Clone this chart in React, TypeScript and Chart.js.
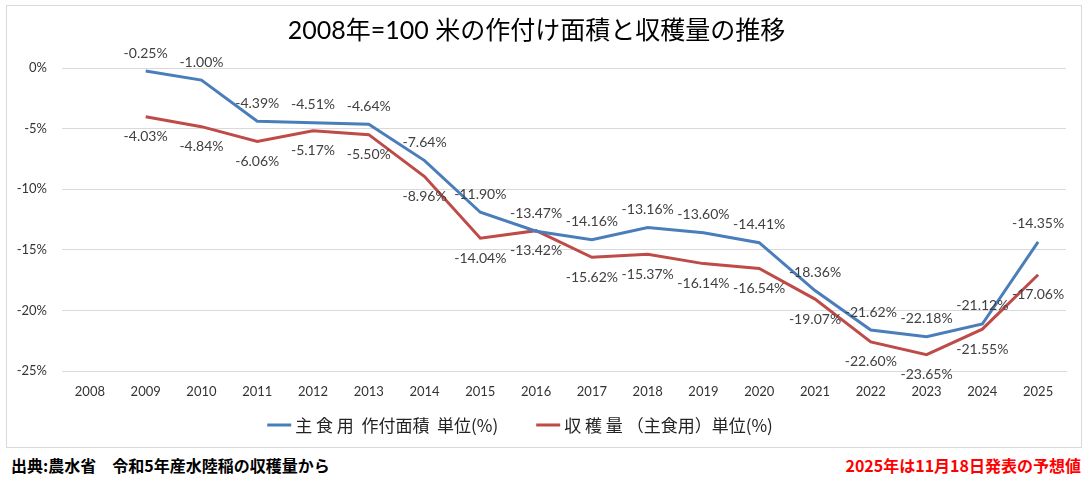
import React, { useEffect, useRef } from "react";
import { Chart, registerables } from "chart.js";

Chart.register(...registerables);

// ---- data ----
const years = ["2008", "2009", "2010", "2011", "2012", "2013", "2014", "2015", "2016", "2017", "2018", "2019", "2020", "2021", "2022", "2023", "2024", "2025"];
const plantedArea = [null, -0.25, -1.0, -4.39, -4.51, -4.64, -7.64, -11.9, -13.47, -14.16, -13.16, -13.6, -14.41, -18.36, -21.62, -22.18, -21.12, -14.35];
const harvest = [null, -4.03, -4.84, -6.06, -5.17, -5.5, -8.96, -14.04, -13.42, -15.62, -15.37, -16.14, -16.54, -19.07, -22.6, -23.65, -21.55, -17.06];
const yTickValues = [0, -5, -10, -15, -20, -25];
const titleText = "2008年=100 米の作付け面積と収穫量の推移";
const seriesNames = ["主 食 用  作付面積  単位(%)", "収 穫 量 （主食用）単位(%)"];
const sourceNote = "出典:農水省　令和5年産水陸稲の収穫量から";
const forecastNote = "2025年は11月18日発表の予想値";

const BLUE = "#4A7EBB";
const RED = "#BE4B48";

const pointLabelPlugin = {
  id: "pointLabels",
  afterDatasetsDraw(chart: any) {
    const ctx = chart.ctx;
    ctx.save();
    ctx.font = "14px Lato";
    ctx.fillStyle = "#404040";
    ctx.textAlign = "center";
    ctx.textBaseline = "middle";
    chart.data.datasets.forEach((ds: any, i: number) => {
      const meta = chart.getDatasetMeta(i);
      const dy = ds.labelSide === "above" ? -18 : 20;
      meta.data.forEach((pt: any, j: number) => {
        const v = ds.data[j];
        if (v == null) return;
        ctx.fillText(v.toFixed(2) + "%", pt.x, pt.y + dy);
      });
    });
    ctx.restore();
  },
};

const legendPlugin = {
  id: "lineLegend",
  afterDraw(chart: any) {
    const ctx = chart.ctx;
    ctx.save();
    ctx.font = '17px "Noto Sans CJK JP"';
    ctx.textBaseline = "middle";
    ctx.textAlign = "left";
    const markerW = 24;
    const gap = 4;
    const between = 38;
    const items = chart.data.datasets.map((ds: any) => ({
      label: ds.label,
      color: ds.borderColor,
      w: ctx.measureText(ds.label).width,
    }));
    const total = items.reduce((s: number, it: any) => s + markerW + gap + it.w, 0) + between * (items.length - 1);
    const cx = 513;
    const y = 419;
    let x = cx - total / 2;
    items.forEach((it: any) => {
      ctx.fillStyle = it.color;
      ctx.fillRect(x, y - 1.5, markerW, 3);
      x += markerW + gap;
      ctx.fillStyle = "#222222";
      ctx.fillText(it.label, x, y + 1);
      x += it.w + between;
    });
    ctx.restore();
  },
};

function RiceChart() {
  const ref = useRef<HTMLCanvasElement | null>(null);
  useEffect(() => {
    if (!ref.current) return;
    const chart = new Chart(ref.current, {
      type: "line",
      data: {
        labels: years,
        datasets: [
          {
            label: seriesNames[0],
            data: plantedArea,
            borderColor: BLUE,
            backgroundColor: BLUE,
            borderWidth: 3,
            pointRadius: 0,
            tension: 0,
            labelSide: "above",
          } as any,
          {
            label: seriesNames[1],
            data: harvest,
            borderColor: RED,
            backgroundColor: RED,
            borderWidth: 3,
            pointRadius: 0,
            tension: 0,
            labelSide: "below",
          } as any,
        ],
      },
      options: {
        responsive: false,
        animation: false,
        devicePixelRatio: 1,
        layout: { padding: { left: 0, right: 15, top: 0, bottom: 46 } },
        plugins: {
          legend: { display: false },
          tooltip: { enabled: false },
          title: {
            display: true,
            text: titleText,
            color: "#000000",
            font: { family: 'Lato, "Noto Sans CJK JP"', size: 25, weight: "normal" },
            padding: { top: 10, bottom: 22 },
          },
        },
        scales: {
          x: {
            type: "category",
            offset: true,
            grid: { display: false, drawTicks: false },
            border: { display: true, color: "#d9d9d9" },
            ticks: {
              color: "#333333",
              font: { family: "Lato", size: 13 },
              padding: 13,
              maxRotation: 0,
              autoSkip: false,
            },
            afterFit: (s: any) => {
              s.height = 30;
            },
          },
          y: {
            min: -25,
            max: 0,
            afterBuildTicks: (s: any) => {
              s.ticks = yTickValues.map((v) => ({ value: v }));
            },
            grid: { color: "#d9d9d9", drawTicks: false, lineWidth: 1 },
            border: { display: false },
            ticks: {
              color: "#333333",
              font: { family: "Lato", size: 13 },
              padding: 15,
              callback: (v: any) => `${v}%`,
            },
            afterFit: (s: any) => {
              s.width = 55;
            },
          },
        },
      },
      plugins: [pointLabelPlugin, legendPlugin],
    });
    return () => chart.destroy();
  }, []);

  return (
    <canvas
      ref={ref}
      width={1074}
      height={441}
      style={{ position: "absolute", left: 0, top: 0, width: 1074, height: 441 }}
    />
  );
}

export default function App() {
  useEffect(() => {
    document.body.style.margin = "0";
  }, []);
  return (
    <div style={{ position: "relative", width: 1088, height: 489, background: "#ffffff", overflow: "hidden" }}>
      <div
        style={{
          position: "absolute",
          left: 6,
          top: 5,
          width: 1076,
          height: 443,
          boxSizing: "border-box",
          border: "1px solid #d9d9d9",
        }}
      >
        <RiceChart />
      </div>
      <div
        style={{
          position: "absolute",
          left: 11,
          top: 455,
          lineHeight: "20px",
          fontSize: 16,
          fontWeight: "bold",
          fontFamily: '"Noto Sans CJK JP"',
          color: "#000000",
          whiteSpace: "nowrap",
        }}
      >
        {sourceNote}
      </div>
      <div
        style={{
          position: "absolute",
          right: 7,
          top: 455,
          lineHeight: "20px",
          fontSize: 16,
          fontWeight: "bold",
          fontFamily: '"Noto Sans CJK JP"',
          color: "#ff0000",
          whiteSpace: "nowrap",
        }}
      >
        {forecastNote}
      </div>
    </div>
  );
}
